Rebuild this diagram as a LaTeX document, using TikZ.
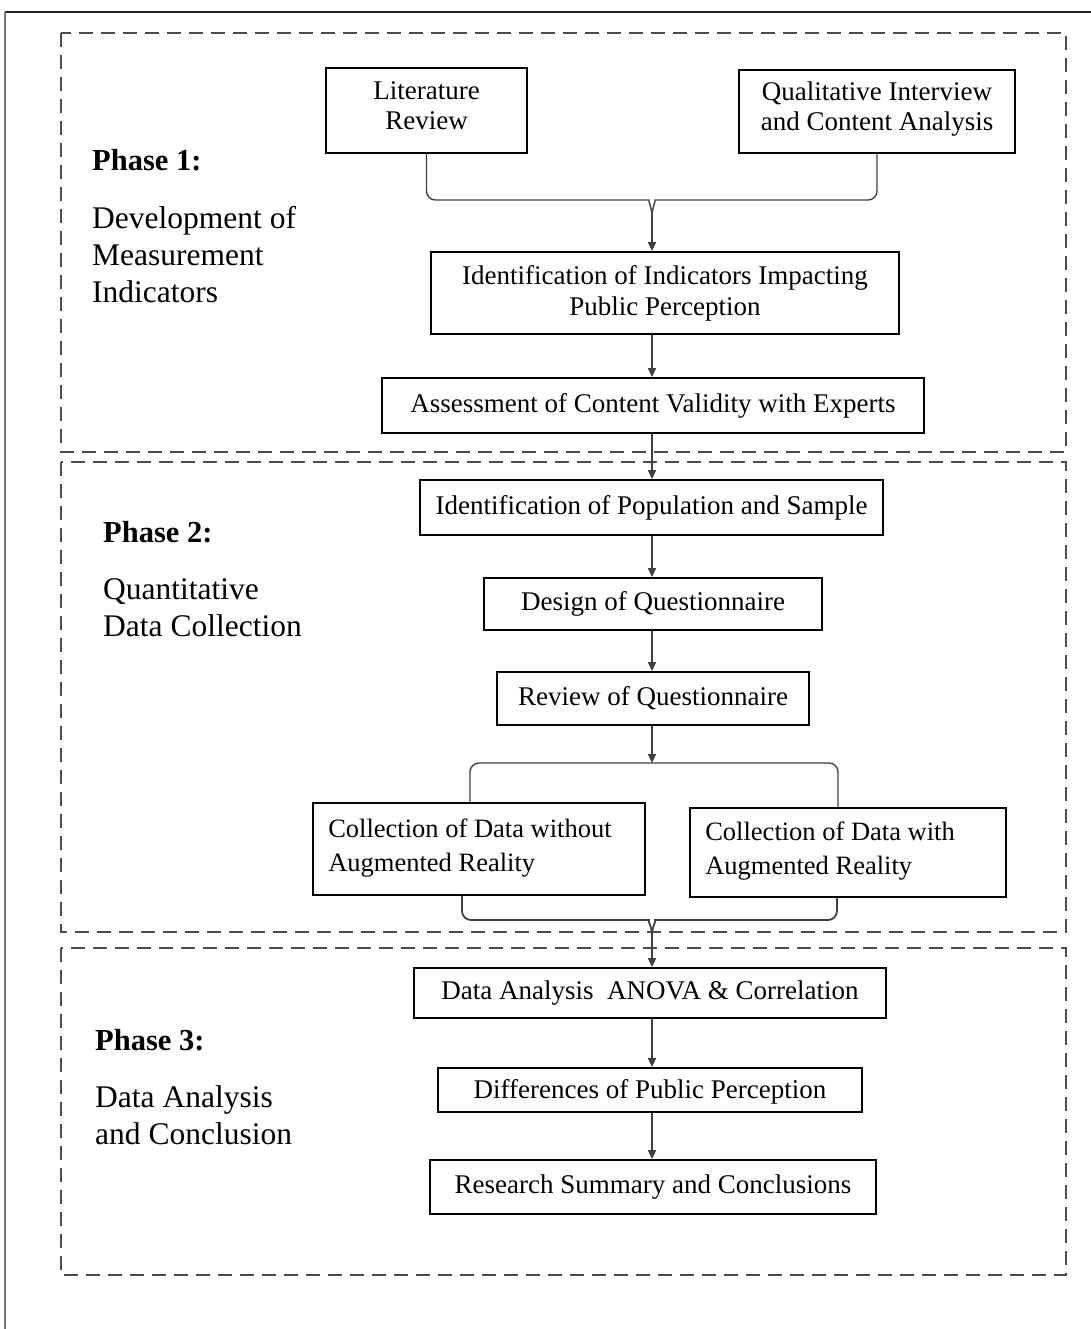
\documentclass[tikz,border=0pt]{standalone}
\usepackage{fontspec}
\setmainfont{Liberation Serif}
\usetikzlibrary{arrows.meta}
\tikzset{
  x=1pt, y=-1pt,
  box/.style={draw=black, line width=1.8pt, fill=white, inner sep=0pt, align=center,
    font=\fontsize{27}{31}\selectfont},
  boxtext/.style={inner sep=0pt, align=center, font=\fontsize{27}{30.5}\selectfont},
  sidetext/.style={anchor=west, inner sep=0pt, align=left, font=\fontsize{26.5}{34}\selectfont},
  phasebox/.style={draw=black!70, line width=2pt, dash pattern=on 14pt off 8pt},
  phasehead/.style={anchor=west, inner sep=0pt, font=\bfseries\fontsize{30.5}{34}\selectfont},
  phasetext/.style={anchor=north west, inner sep=0pt, align=left, font=\fontsize{31.5}{37}\selectfont},
  conn/.style={draw=black!75, line width=1.4pt},
  arr/.style={conn, -{Triangle[length=9pt,width=8pt]}},
}
\begin{document}
\begin{tikzpicture}
\useasboundingbox (0,0) rectangle (1091,1329);
% page frame
\draw[black!85, line width=2.2pt] (5,12) -- (1091,12);
\draw[black!55, line width=1.5pt] (5,12) -- (5,1329);

% phase frames
\draw[phasebox] (61,33) rectangle (1066,452);
\draw[phasebox] (61,462) rectangle (1066,932);
\draw[phasebox] (61,948) rectangle (1066,1275);

% phase labels
\node[phasehead] (p1) at (92,160) {Phase 1:};
\node[phasetext] (p1t) at (92,206) {Development of\\Measurement\\Indicators};
\node[phasehead] (p2) at (103,532) {Phase 2:};
\node[phasetext] (p2t) at (103,578) {Quantitative\\Data Collection};
\node[phasehead] (p3) at (95,1040) {Phase 3:};
\node[phasetext] (p3t) at (95,1085) {Data Analysis\\and Conclusion};

% Phase 1 boxes
\node[box, minimum width=201pt, minimum height=85pt] (lit) at (426.5,110.5) {};
\node[boxtext] (lit-t) at ([yshift=5pt]lit.center) {Literature\\Review};
\node[box, minimum width=276pt, minimum height=83pt] (qual) at (877,111.5) {};
\node[boxtext] (qual-t) at ([yshift=2.5pt]qual.center) {Qualitative Interview\\and Content Analysis};
\node[box, minimum width=468pt, minimum height=82pt] (ind) at (665,293) {};
\node[boxtext, font=\fontsize{27}{31}\selectfont] (ind-t) at (ind.center) {Identification of Indicators Impacting\\Public Perception};
\node[box, minimum width=542pt, minimum height=55pt] (val) at (653,405.5) {Assessment of Content Validity with Experts};

% Phase 2 boxes
\node[box, minimum width=463pt, minimum height=55pt] (pop) at (651.5,507.5) {Identification of Population and Sample};
\node[box, minimum width=338pt, minimum height=52pt] (des) at (653,604) {Design of Questionnaire};
\node[box, minimum width=312pt, minimum height=53pt] (rev) at (653,698.5) {Review of Questionnaire};
\node[box, minimum width=332pt, minimum height=92pt] (nar) at (479,849) {};
\node[sidetext] (nar-t) at ([xshift=16pt,yshift=1pt]nar.west) {Collection of Data without\\Augmented Reality};
\node[box, minimum width=316pt, minimum height=89pt] (war) at (848,852.5) {};
\node[sidetext] (war-t) at ([xshift=16pt,yshift=1.5pt]war.west) {Collection of Data with\\Augmented Reality};

% Phase 3 boxes
\node[box, minimum width=472pt, minimum height=50pt] (ana) at (650,993) {Data Analysis\ \ ANOVA \& Correlation};
\node[box, minimum width=424pt, minimum height=44pt] (dif) at (650,1090) {};
\node[boxtext] (dif-t) at ([yshift=-2pt]dif.center) {Differences of Public Perception};
\node[box, minimum width=446pt, minimum height=54pt] (sum) at (653,1187) {Research Summary and Conclusions};

% vertical spine of the flow and bracket junctions
\coordinate (spine) at (652,0);
\coordinate (j1) at (652,216);
\coordinate (j2) at (652,763);
\coordinate (j3) at (652,934);

% bracket joining the two sources
\draw[conn, rounded corners=9pt] (lit.south) |- (640,200) to[out=0,in=90] (j1);
\draw[conn, rounded corners=9pt] (qual.south) |- (664,200) to[out=180,in=90] (j1);
\draw[arr] (j1) -- (ind.north -| spine);

% main chain
\draw[arr] (ind.south -| spine) -- (val.north -| spine);
\draw[arr] (val.south -| spine) -- (pop.north -| spine);
\draw[arr] (pop.south -| spine) -- (des.north -| spine);
\draw[arr] (des.south -| spine) -- (rev.north -| spine);
\draw[arr, line width=1.8pt] (rev.south -| spine) -- (j2);

% split into the two collection branches
\draw[conn, rounded corners=9pt] (j2) -| (nar.north -| 470,0);
\draw[conn, rounded corners=9pt] (j2) -| (war.north -| 838,0);

% merge of the two branches
\draw[conn, line width=1.8pt, rounded corners=9pt] (nar.south -| 462,0) |- (640,920) to[out=0,in=90] (j3);
\draw[conn, line width=1.8pt, rounded corners=9pt] (war.south -| 837,0) |- (664,920) to[out=180,in=90] (j3);
\draw[arr, line width=1.8pt] (j3) -- (ana.north -| spine);

\draw[arr] (ana.south -| spine) -- (dif.north -| spine);
\draw[arr, line width=1.8pt] (dif.south -| spine) -- (sum.north -| spine);
\end{tikzpicture}
\end{document}
